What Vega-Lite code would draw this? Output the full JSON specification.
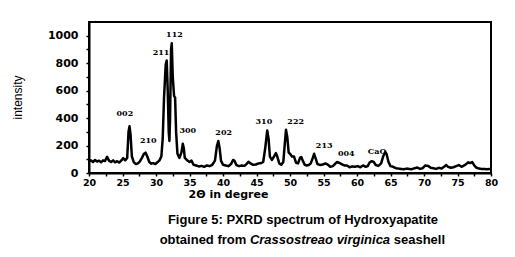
{
  "$schema": "https://vega.github.io/schema/vega-lite/v6.json",
  "autosize": "none",
  "width": 402,
  "height": 151,
  "padding": {"left": 89, "top": 22, "right": 24, "bottom": 84},
  "background": "white",
  "config": {
    "view": {"stroke": "black", "strokeWidth": 2},
    "axis": {"domainColor": "black", "domainWidth": 2, "tickColor": "black", "tickWidth": 1.5, "grid": false, "labelColor": "black", "titleColor": "black"}
  },
  "encoding": {
    "x": {
      "field": "x", "type": "quantitative",
      "scale": {"domain": [20, 80], "nice": false, "zero": false},
      "axis": {
        "values": [20, 22.5, 25, 27.5, 30, 32.5, 35, 37.5, 40, 42.5, 45, 47.5, 50, 52.5, 55, 57.5, 60, 62.5, 65, 67.5, 70, 72.5, 75, 77.5, 80],
        "labelExpr": "datum.value % 5 == 0 ? datum.label : ''",
        "tickSize": 3, "labelPadding": 1,
        "labelFont": "DejaVu Sans", "labelFontWeight": "bold", "labelFontSize": 9.5,
        "labelFlush": false, "labelOverlap": false,
        "title": "2Θ in degree", "titleFont": "DejaVu Sans", "titleFontWeight": "bold", "titleFontSize": 11,
        "titleX": 139, "titleY": 21, "titleBaseline": "middle", "titleAlign": "center"
      }
    },
    "y": {
      "field": "y", "type": "quantitative",
      "scale": {"domain": [0, 1100], "nice": false, "zero": true},
      "axis": {
        "values": [0, 100, 200, 300, 400, 500, 600, 700, 800, 900, 1000],
        "labelExpr": "datum.value % 200 == 0 ? datum.label : ''",
        "format": "d",
        "tickSize": 3, "labelPadding": 8,
        "labelFont": "DejaVu Sans", "labelFontWeight": "bold", "labelFontSize": 11,
        "labelFlush": false, "labelOverlap": false,
        "title": "intensity", "titleFont": "Liberation Sans", "titleFontWeight": "normal", "titleFontSize": 12,
        "titleX": -72, "titleY": 75, "titleAngle": -90, "titleBaseline": "middle", "titleAlign": "center"
      }
    }
  },
  "layer": [
    {
      "data": {"values": [
        {"x": 25.35, "y": 427, "label": "002"},
        {"x": 28.85, "y": 230, "label": "210"},
        {"x": 30.75, "y": 875, "label": "211"},
        {"x": 32.75, "y": 1006, "label": "112"},
        {"x": 34.75, "y": 303, "label": "300"},
        {"x": 40.1, "y": 290, "label": "202"},
        {"x": 46.1, "y": 370, "label": "310"},
        {"x": 50.85, "y": 370, "label": "222"},
        {"x": 55.1, "y": 194, "label": "213"},
        {"x": 58.4, "y": 140, "label": "004"},
        {"x": 63.0, "y": 153, "label": "CaO"}
      ]},
      "mark": {"type": "text", "font": "DejaVu Serif", "fontWeight": "bold", "fontSize": 8, "baseline": "middle", "align": "center", "color": "black"},
      "encoding": {"text": {"field": "label"}}
    },
    {
      "data": {"values": [
        {"x": 20.0, "y": 85}, {"x": 20.3, "y": 92}, {"x": 20.6, "y": 80}, {"x": 20.9, "y": 95}, {"x": 21.2, "y": 84}, {"x": 21.5, "y": 90}, {"x": 21.8, "y": 78}, {"x": 22.1, "y": 92}, {"x": 22.4, "y": 88}, {"x": 22.7, "y": 118},
        {"x": 23.0, "y": 88}, {"x": 23.3, "y": 80}, {"x": 23.6, "y": 92}, {"x": 23.9, "y": 78}, {"x": 24.2, "y": 86}, {"x": 24.5, "y": 76}, {"x": 24.8, "y": 90}, {"x": 25.1, "y": 108}, {"x": 25.4, "y": 92}, {"x": 25.7, "y": 110},
        {"x": 25.9, "y": 300}, {"x": 26.05, "y": 340}, {"x": 26.2, "y": 280}, {"x": 26.4, "y": 120}, {"x": 26.7, "y": 78}, {"x": 27.0, "y": 65}, {"x": 27.3, "y": 70}, {"x": 27.6, "y": 85}, {"x": 27.9, "y": 110}, {"x": 28.2, "y": 140},
        {"x": 28.45, "y": 148}, {"x": 28.7, "y": 120}, {"x": 29.0, "y": 80}, {"x": 29.3, "y": 68}, {"x": 29.6, "y": 72}, {"x": 29.9, "y": 65}, {"x": 30.2, "y": 78}, {"x": 30.5, "y": 90}, {"x": 30.8, "y": 120}, {"x": 31.0, "y": 250},
        {"x": 31.2, "y": 550}, {"x": 31.45, "y": 790}, {"x": 31.6, "y": 820}, {"x": 31.75, "y": 600}, {"x": 31.9, "y": 300}, {"x": 32.0, "y": 233}, {"x": 32.1, "y": 400}, {"x": 32.25, "y": 900}, {"x": 32.35, "y": 945}, {"x": 32.5, "y": 700},
        {"x": 32.7, "y": 560}, {"x": 32.85, "y": 550}, {"x": 33.0, "y": 300}, {"x": 33.2, "y": 140}, {"x": 33.5, "y": 110}, {"x": 33.8, "y": 150}, {"x": 34.0, "y": 213}, {"x": 34.15, "y": 180}, {"x": 34.3, "y": 110}, {"x": 34.6, "y": 95},
        {"x": 35.0, "y": 80}, {"x": 35.3, "y": 90}, {"x": 35.6, "y": 60}, {"x": 36.0, "y": 55}, {"x": 36.4, "y": 48}, {"x": 36.8, "y": 52}, {"x": 37.2, "y": 45}, {"x": 37.6, "y": 55}, {"x": 38.0, "y": 50}, {"x": 38.4, "y": 60},
        {"x": 38.8, "y": 90}, {"x": 39.1, "y": 200}, {"x": 39.3, "y": 233}, {"x": 39.5, "y": 180}, {"x": 39.7, "y": 90}, {"x": 40.0, "y": 60}, {"x": 40.4, "y": 55}, {"x": 40.8, "y": 50}, {"x": 41.2, "y": 65}, {"x": 41.5, "y": 95},
        {"x": 41.7, "y": 90}, {"x": 42.0, "y": 58}, {"x": 42.4, "y": 50}, {"x": 42.8, "y": 55}, {"x": 43.2, "y": 52}, {"x": 43.5, "y": 65}, {"x": 43.8, "y": 82}, {"x": 44.1, "y": 70}, {"x": 44.5, "y": 60}, {"x": 44.9, "y": 62},
        {"x": 45.3, "y": 70}, {"x": 45.7, "y": 72}, {"x": 46.0, "y": 80}, {"x": 46.3, "y": 180}, {"x": 46.6, "y": 310}, {"x": 46.8, "y": 250}, {"x": 47.0, "y": 120}, {"x": 47.3, "y": 95}, {"x": 47.6, "y": 120}, {"x": 47.9, "y": 145},
        {"x": 48.1, "y": 120}, {"x": 48.4, "y": 70}, {"x": 48.7, "y": 60}, {"x": 49.0, "y": 80}, {"x": 49.2, "y": 200}, {"x": 49.4, "y": 315}, {"x": 49.6, "y": 260}, {"x": 49.8, "y": 150}, {"x": 50.0, "y": 140}, {"x": 50.3, "y": 120},
        {"x": 50.6, "y": 120}, {"x": 50.9, "y": 75}, {"x": 51.2, "y": 70}, {"x": 51.5, "y": 110}, {"x": 51.7, "y": 116}, {"x": 51.9, "y": 90}, {"x": 52.2, "y": 60}, {"x": 52.5, "y": 55}, {"x": 52.8, "y": 58}, {"x": 53.1, "y": 70},
        {"x": 53.4, "y": 110}, {"x": 53.6, "y": 140}, {"x": 53.8, "y": 110}, {"x": 54.1, "y": 65}, {"x": 54.5, "y": 58}, {"x": 54.9, "y": 62}, {"x": 55.3, "y": 70}, {"x": 55.7, "y": 60}, {"x": 56.0, "y": 45}, {"x": 56.4, "y": 50},
        {"x": 56.8, "y": 70}, {"x": 57.0, "y": 80}, {"x": 57.3, "y": 75}, {"x": 57.7, "y": 65}, {"x": 58.1, "y": 55}, {"x": 58.5, "y": 55}, {"x": 58.9, "y": 42}, {"x": 59.3, "y": 48}, {"x": 59.7, "y": 45}, {"x": 60.1, "y": 50},
        {"x": 60.5, "y": 42}, {"x": 60.9, "y": 55}, {"x": 61.3, "y": 45}, {"x": 61.6, "y": 50}, {"x": 61.9, "y": 78}, {"x": 62.2, "y": 86}, {"x": 62.5, "y": 80}, {"x": 62.8, "y": 58}, {"x": 63.2, "y": 52}, {"x": 63.6, "y": 70},
        {"x": 63.9, "y": 120}, {"x": 64.2, "y": 153}, {"x": 64.4, "y": 140}, {"x": 64.7, "y": 80}, {"x": 65.0, "y": 50}, {"x": 65.4, "y": 45}, {"x": 65.8, "y": 35}, {"x": 66.2, "y": 32}, {"x": 66.6, "y": 30}, {"x": 67.0, "y": 28},
        {"x": 67.4, "y": 32}, {"x": 67.8, "y": 30}, {"x": 68.2, "y": 28}, {"x": 68.6, "y": 35}, {"x": 69.0, "y": 40}, {"x": 69.4, "y": 30}, {"x": 69.8, "y": 35}, {"x": 70.2, "y": 55}, {"x": 70.6, "y": 52}, {"x": 71.0, "y": 38},
        {"x": 71.4, "y": 35}, {"x": 71.8, "y": 30}, {"x": 72.2, "y": 38}, {"x": 72.6, "y": 32}, {"x": 73.0, "y": 45}, {"x": 73.3, "y": 58}, {"x": 73.6, "y": 45}, {"x": 74.0, "y": 38}, {"x": 74.4, "y": 42}, {"x": 74.8, "y": 50},
        {"x": 75.2, "y": 58}, {"x": 75.6, "y": 45}, {"x": 76.0, "y": 55}, {"x": 76.3, "y": 65}, {"x": 76.6, "y": 78}, {"x": 76.9, "y": 72}, {"x": 77.2, "y": 80}, {"x": 77.5, "y": 55}, {"x": 77.8, "y": 40}, {"x": 78.2, "y": 32},
        {"x": 78.6, "y": 30}, {"x": 79.0, "y": 30}, {"x": 79.4, "y": 28}, {"x": 79.8, "y": 30}, {"x": 80.0, "y": 30}
      ]},
      "mark": {"type": "line", "color": "black", "strokeWidth": 2.5, "strokeJoin": "round"}
    },
    {
      "data": {"values": [{"x": 51.94, "y": -342, "t": "Figure 5: PXRD spectrum of Hydroxyapatite"}]},
      "mark": {"type": "text", "font": "Liberation Sans", "fontWeight": "bold", "fontSize": 13, "align": "center", "baseline": "middle", "color": "black"},
      "encoding": {"text": {"field": "t"}}
    },
    {
      "data": {"values": [{"x": 43.48, "y": -488, "t": "obtained from"}]},
      "mark": {"type": "text", "font": "Liberation Sans", "fontWeight": "bold", "fontSize": 13, "align": "right", "baseline": "middle", "color": "black"},
      "encoding": {"text": {"field": "t"}}
    },
    {
      "data": {"values": [{"x": 54.48, "y": -488, "t": "Crassostreao virginica"}]},
      "mark": {"type": "text", "font": "Liberation Sans", "fontWeight": "bold", "fontStyle": "italic", "fontSize": 13, "align": "center", "baseline": "middle", "color": "black"},
      "encoding": {"text": {"field": "t"}}
    },
    {
      "data": {"values": [{"x": 65.48, "y": -488, "t": "seashell"}]},
      "mark": {"type": "text", "font": "Liberation Sans", "fontWeight": "bold", "fontSize": 13, "align": "left", "baseline": "middle", "color": "black"},
      "encoding": {"text": {"field": "t"}}
    }
  ]
}
